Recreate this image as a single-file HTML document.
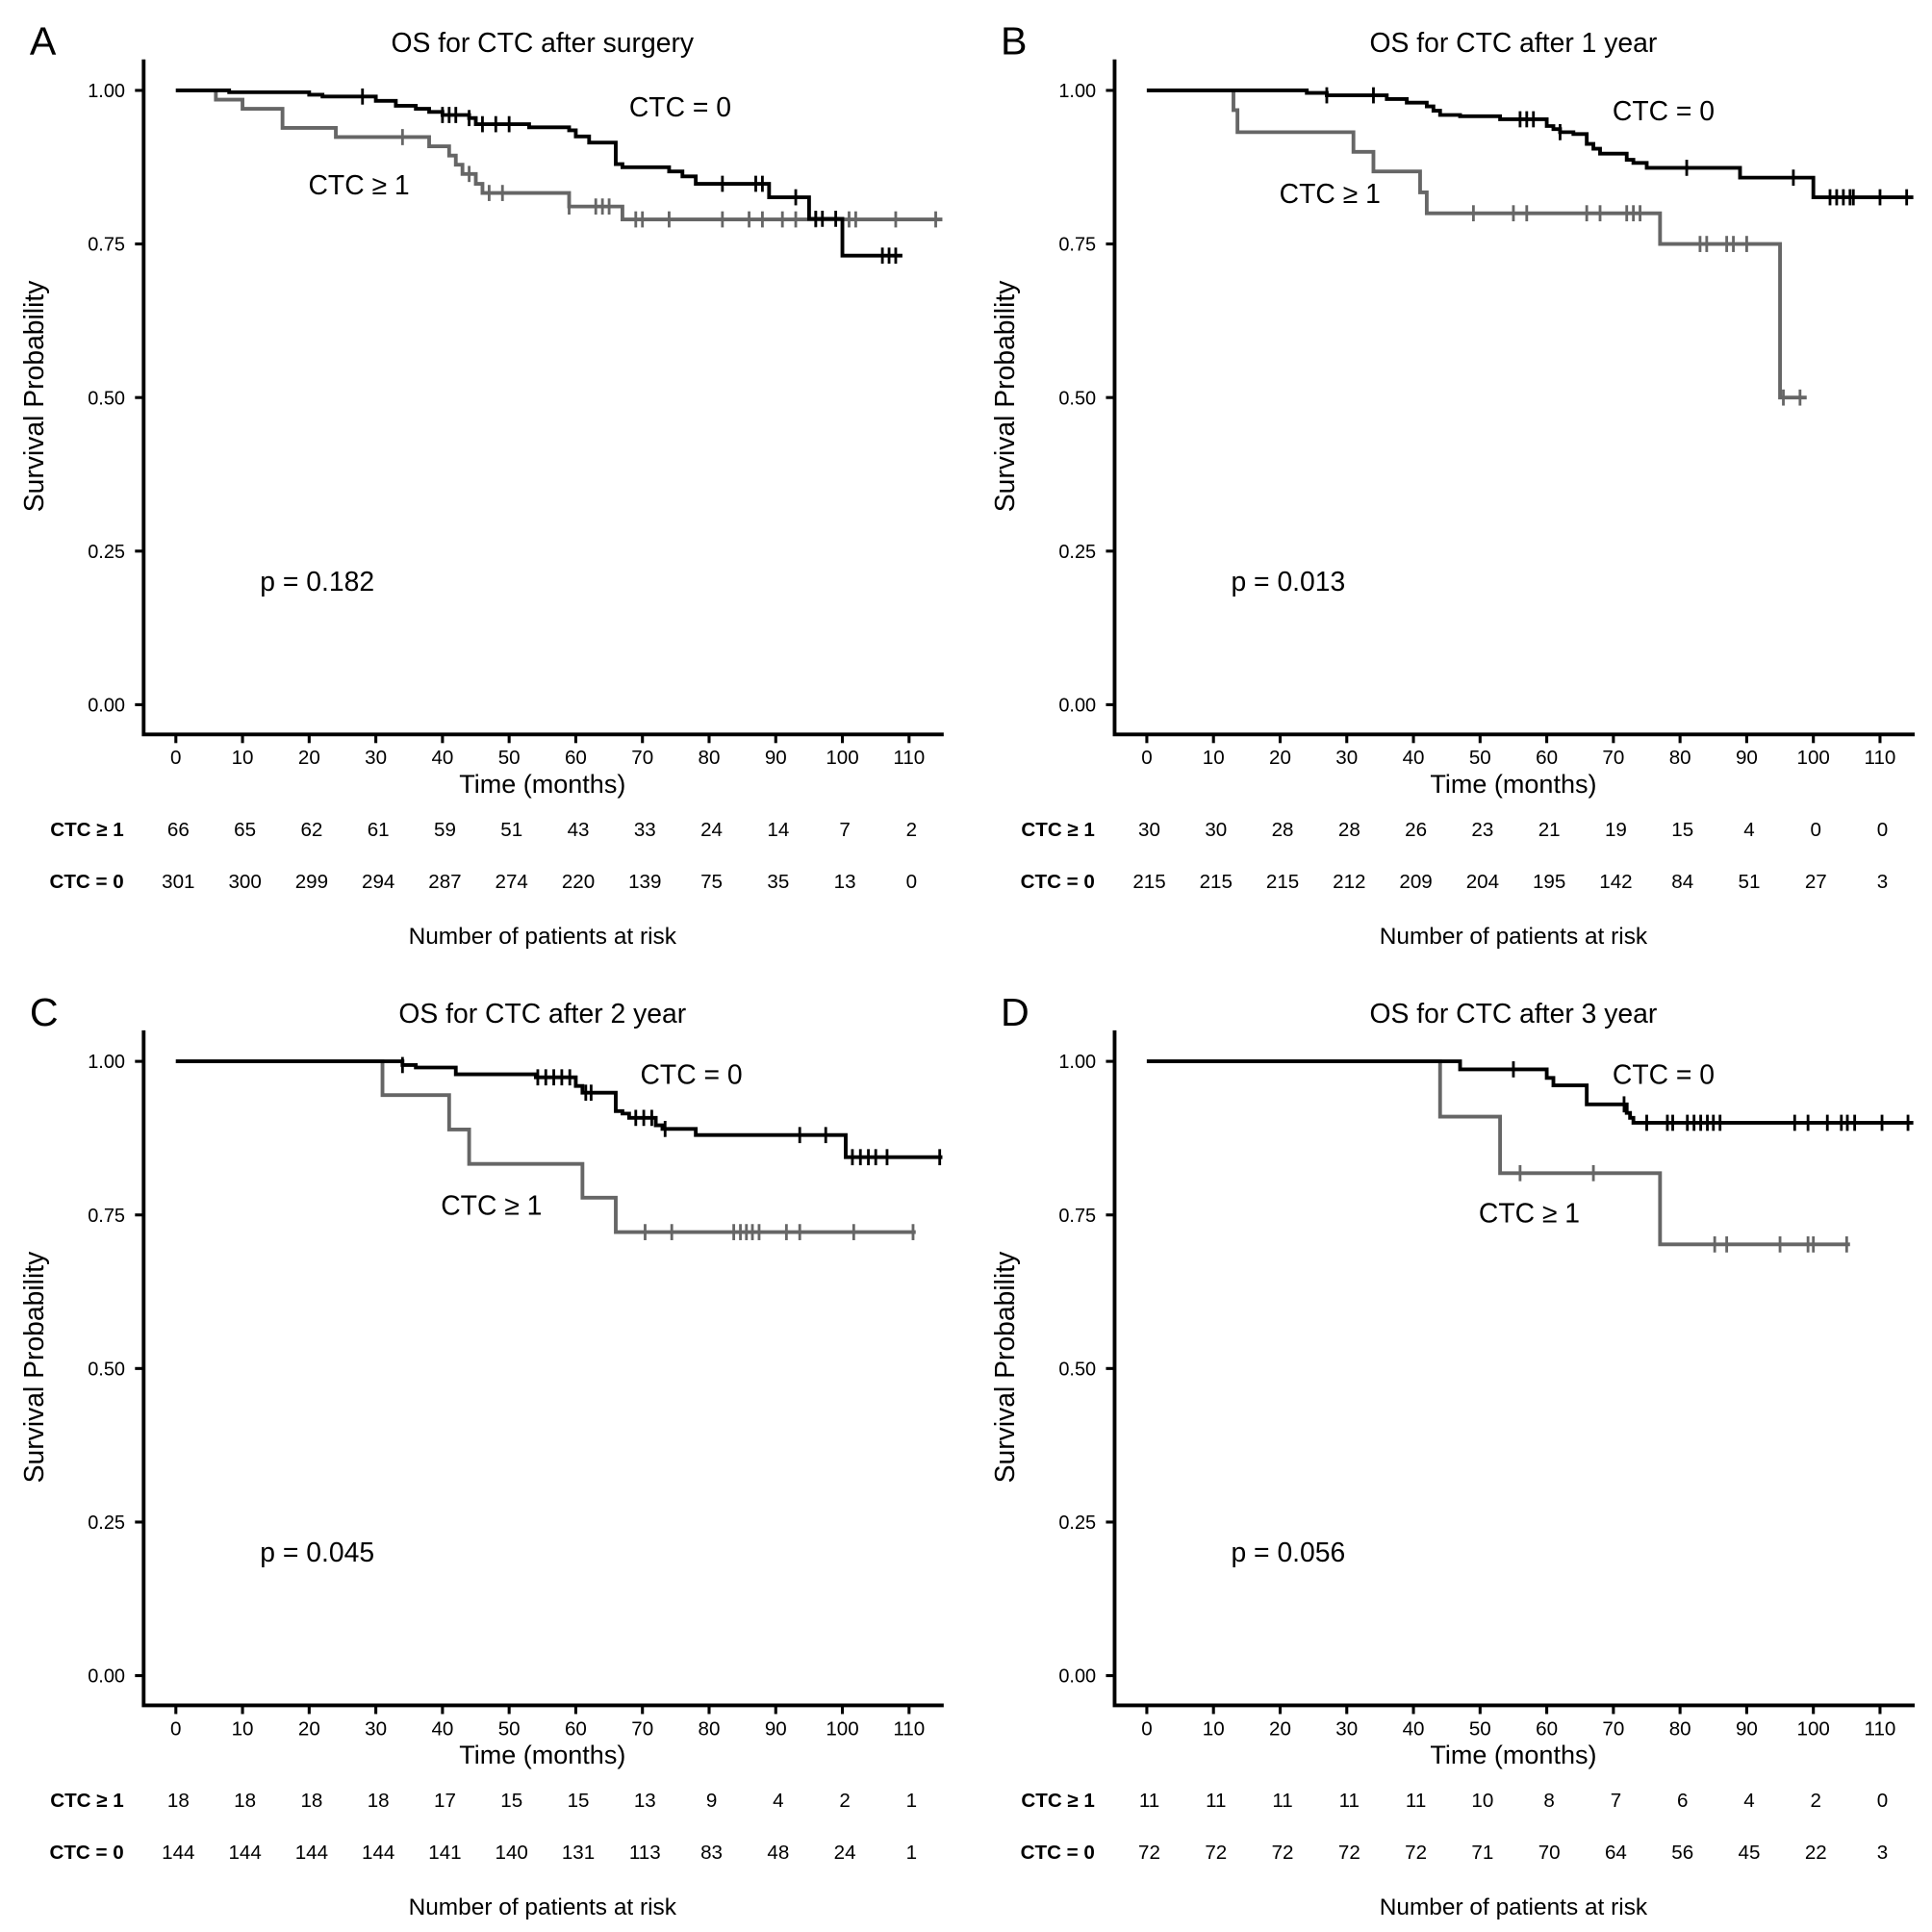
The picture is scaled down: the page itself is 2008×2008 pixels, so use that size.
<!DOCTYPE html>
<html><head><meta charset="utf-8"><style>
html,body{margin:0;padding:0;background:#fff}
svg{display:block}
text{font-family:"Liberation Sans",Arial,sans-serif;fill:#000}
</style></head>
<body>
<svg id="fig" width="2008" height="2008" viewBox="0 0 1560 1560" xmlns="http://www.w3.org/2000/svg"></svg>
<script>
// ---- Data ----
const xTicks = [0,10,20,30,40,50,60,70,80,90,100,110];
const yTicks = [0,0.25,0.5,0.75,1.0];
const yTickLabels = ["0.00","0.25","0.50","0.75","1.00"];
const panelLetters = ["A","B","C","D"];
const panelTitles = ["OS for CTC after surgery","OS for CTC after 1 year","OS for CTC after 2 year","OS for CTC after 3 year"];
const pValues = ["p = 0.182","p = 0.013","p = 0.045","p = 0.056"];

// Panel A
const aBlackT = [0,8,20,22,30,33,36,38,40,44,45,53,59,60,62,66,67,74,76,78,89,95,100];
const aBlackS = [1,0.997,0.993,0.99,0.983,0.975,0.97,0.965,0.96,0.955,0.945,0.94,0.935,0.925,0.915,0.88,0.875,0.868,0.86,0.848,0.826,0.791,0.731];
const aBlackEnd = 109;
const aBlackCens = [28,40,41,42,44,46,48,50,82,87,88,93,96,97,99,106,107,108];
const aGrayT = [0,6,10,16,24,38,41,42,43,45,46,59,67];
const aGrayS = [1,0.985,0.97,0.939,0.924,0.909,0.894,0.879,0.864,0.848,0.833,0.811,0.79];
const aGrayEnd = 115;
const aGrayCens = [34,44,47,49,59,63,64,65,69,70,74,82,86,88,91,93,96,101,102,108,114];
const aRiskPos = [66,65,62,61,59,51,43,33,24,14,7,2];
const aRiskNeg = [301,300,299,294,287,274,220,139,75,35,13,0];

// Panel B
const bBlackT = [0,24,27,36,39,42,43,44,47,53,60,61,62,64,66,67,68,72,73,75,89,100];
const bBlackS = [1,0.996,0.992,0.986,0.98,0.974,0.967,0.96,0.958,0.953,0.942,0.937,0.932,0.929,0.913,0.905,0.897,0.887,0.882,0.874,0.858,0.826];
const bBlackEnd = 115;
const bBlackCens = [27,34,56,57,58,62,81,97,102.5,103.5,104.5,105.5,106,110,114];
const bGrayT = [0,13,13.6,31,34,41,42,77,95];
const bGrayS = [1,0.968,0.932,0.9,0.868,0.834,0.8,0.75,0.5];
const bGrayEnd = 99;
const bGrayCens = [49,55,57,66,68,72,73,74,83,84,87,88,90,95.5,98];
const bRiskPos = [30,30,28,28,26,23,21,19,15,4,0,0];
const bRiskNeg = [215,215,215,212,209,204,195,142,84,51,27,3];

// Panel C
const cBlackT = [0,34,36,42,54,60,61,66,67,68,72,73,78,100.5];
const cBlackS = [1,0.994,0.99,0.979,0.974,0.96,0.949,0.919,0.915,0.908,0.896,0.89,0.88,0.844];
const cBlackEnd = 115;
const cBlackCens = [34,54.3,55.5,56.7,57.9,59.1,61.5,62.3,69,70.2,71.4,73.4,93.6,97.5,101.5,102.7,103.9,105,106.7,114.6];
const cGrayT = [0,31,41,44,61,66];
const cGrayS = [1,0.945,0.889,0.833,0.778,0.722];
const cGrayEnd = 111;
const cGrayCens = [70.4,74.4,83.7,84.7,85.6,86.5,87.5,91.6,93.6,101.7,110.6];
const cRiskPos = [18,18,18,18,17,15,15,13,9,4,2,1];
const cRiskNeg = [144,144,144,144,141,140,131,113,83,48,24,1];

// Panel D
const dBlackT = [0,47,60,61,66,72,72.5,73];
const dBlackS = [1,0.987,0.973,0.961,0.93,0.916,0.908,0.9];
const dBlackEnd = 115;
const dBlackCens = [55,71.6,75,78.1,78.9,81.1,82.1,83.1,84.1,85,86,97.2,99.2,102.1,104.2,105.1,106.2,110.3,114.2];
const dGrayT = [0,44,53,77];
const dGrayS = [1,0.91,0.818,0.702];
const dGrayEnd = 105.5;
const dGrayCens = [56,67,85.2,87,95,99.2,100,105];
const dRiskPos = [11,11,11,11,11,10,8,7,6,4,2,0];
const dRiskNeg = [72,72,72,72,72,71,70,64,56,45,22,3];

const blackTs=[aBlackT,bBlackT,cBlackT,dBlackT], blackSs=[aBlackS,bBlackS,cBlackS,dBlackS];
const blackEnds=[aBlackEnd,bBlackEnd,cBlackEnd,dBlackEnd], blackCens=[aBlackCens,bBlackCens,cBlackCens,dBlackCens];
const grayTs=[aGrayT,bGrayT,cGrayT,dGrayT], graySs=[aGrayS,bGrayS,cGrayS,dGrayS];
const grayEnds=[aGrayEnd,bGrayEnd,cGrayEnd,dGrayEnd], grayCens=[aGrayCens,bGrayCens,cGrayCens,dGrayCens];
const riskPos=[aRiskPos,bRiskPos,cRiskPos,dRiskPos], riskNeg=[aRiskNeg,bRiskNeg,cRiskNeg,dRiskNeg];
const lblNeg=[[508,94],[1302,97],[517,875],[1302,875]];
const lblPos=[[249,157],[1033,164],[356,981],[1194,987]];

// ---- Drawing ----
const NS="http://www.w3.org/2000/svg";
const svg=document.getElementById('fig');
function mk(tag,attrs,parent,txt){const e=document.createElementNS(NS,tag);for(const k in attrs)e.setAttribute(k,attrs[k]);if(txt!==undefined)e.textContent=txt;parent.appendChild(e);return e;}

for(let p=0;p<4;p++){
  const ox=(p%2)*784, oy=Math.floor(p/2)*784;
  const X=t=>ox+142+t*5.382;
  const Y=s=>oy+569-s*496;
  const g=mk('g',{},svg);
  
  
  const letter=mk('text',{x:ox+24,y:oy+44,'font-size':32},g,panelLetters[p]);
  
  
  const title=mk('text',{x:ox+438,y:oy+42,'font-size':22,'text-anchor':'middle'},g,panelTitles[p]);
  
  
  const yl=mk('text',{x:0,y:0,'font-size':22,'text-anchor':'middle',transform:`translate(${ox+35},${oy+320}) rotate(-90)`},g,'Survival Probability');
  
  
  const ax=mk('path',{d:`M${ox+116},${oy+48}V${oy+593}H${ox+762}`,fill:'none',stroke:'#000','stroke-width':3},g);
  
  
  yTicks.forEach((v,i)=>{
    mk('line',{x1:ox+109,x2:ox+116,y1:Y(v),y2:Y(v),stroke:'#000','stroke-width':2.4},g);
    const t=mk('text',{x:ox+101,y:Y(v)+5.5,'font-size':15.5,'text-anchor':'end'},g,yTickLabels[i]);
    
    
  });
  xTicks.forEach((v,i)=>{
    mk('line',{x1:X(v),x2:X(v),y1:oy+593,y2:oy+600,stroke:'#000','stroke-width':2.4},g);
    const t=mk('text',{x:X(v),y:oy+617,'font-size':16,'text-anchor':'middle'},g,String(v));
    
    
    const r1=mk('text',{x:X(v)+2,y:oy+675,'font-size':16,'text-anchor':'middle'},g,String(riskPos[p][i]));
    
    
    const r2=mk('text',{x:X(v)+2,y:oy+717,'font-size':16,'text-anchor':'middle'},g,String(riskNeg[p][i]));
    
    
  });
  const xl=mk('text',{x:ox+438,y:oy+640,'font-size':21,'text-anchor':'middle'},g,'Time (months)');
  
  
  const rl1=mk('text',{x:ox+100,y:oy+675,'font-size':16,'font-weight':'bold','text-anchor':'end'},g,'CTC ≥ 1');
  
  
  const rl2=mk('text',{x:ox+100,y:oy+717,'font-size':16,'font-weight':'bold','text-anchor':'end'},g,'CTC = 0');
  
  
  const rt=mk('text',{x:ox+438,y:oy+762,'font-size':19,'text-anchor':'middle'},g,'Number of patients at risk');
  
  
  function curve(T,S,end,cens,color,name){
    let d=`M${X(T[0])},${Y(S[0])}`;
    for(let i=1;i<T.length;i++){d+=`H${X(T[i])}V${Y(S[i])}`;}
    d+=`H${X(end)}`;
    const c=mk('path',{d:d,fill:'none',stroke:color,'stroke-width':3},g);
    
    
    cens.forEach(t=>{
      let s=S[0];for(let i=0;i<T.length;i++){if(T[i]<=t)s=S[i];}
      const m=mk('line',{x1:X(t),x2:X(t),y1:Y(s)-6.5,y2:Y(s)+6.5,stroke:color,'stroke-width':2.2},g);
      
      
    });
  }
  curve(grayTs[p],graySs[p],grayEnds[p],grayCens[p],'#666','curve-ctc-pos');
  curve(blackTs[p],blackSs[p],blackEnds[p],blackCens[p],'#000','curve-ctc-zero');
  const l0=mk('text',{x:lblNeg[p][0],y:lblNeg[p][1],'font-size':22},g,'CTC = 0');
  
  
  const l1=mk('text',{x:lblPos[p][0],y:lblPos[p][1],'font-size':22},g,'CTC ≥ 1');
  
  
  const pv=mk('text',{x:ox+210,y:oy+477,'font-size':22},g,pValues[p]);
  
  
}
</script>
</body></html>
